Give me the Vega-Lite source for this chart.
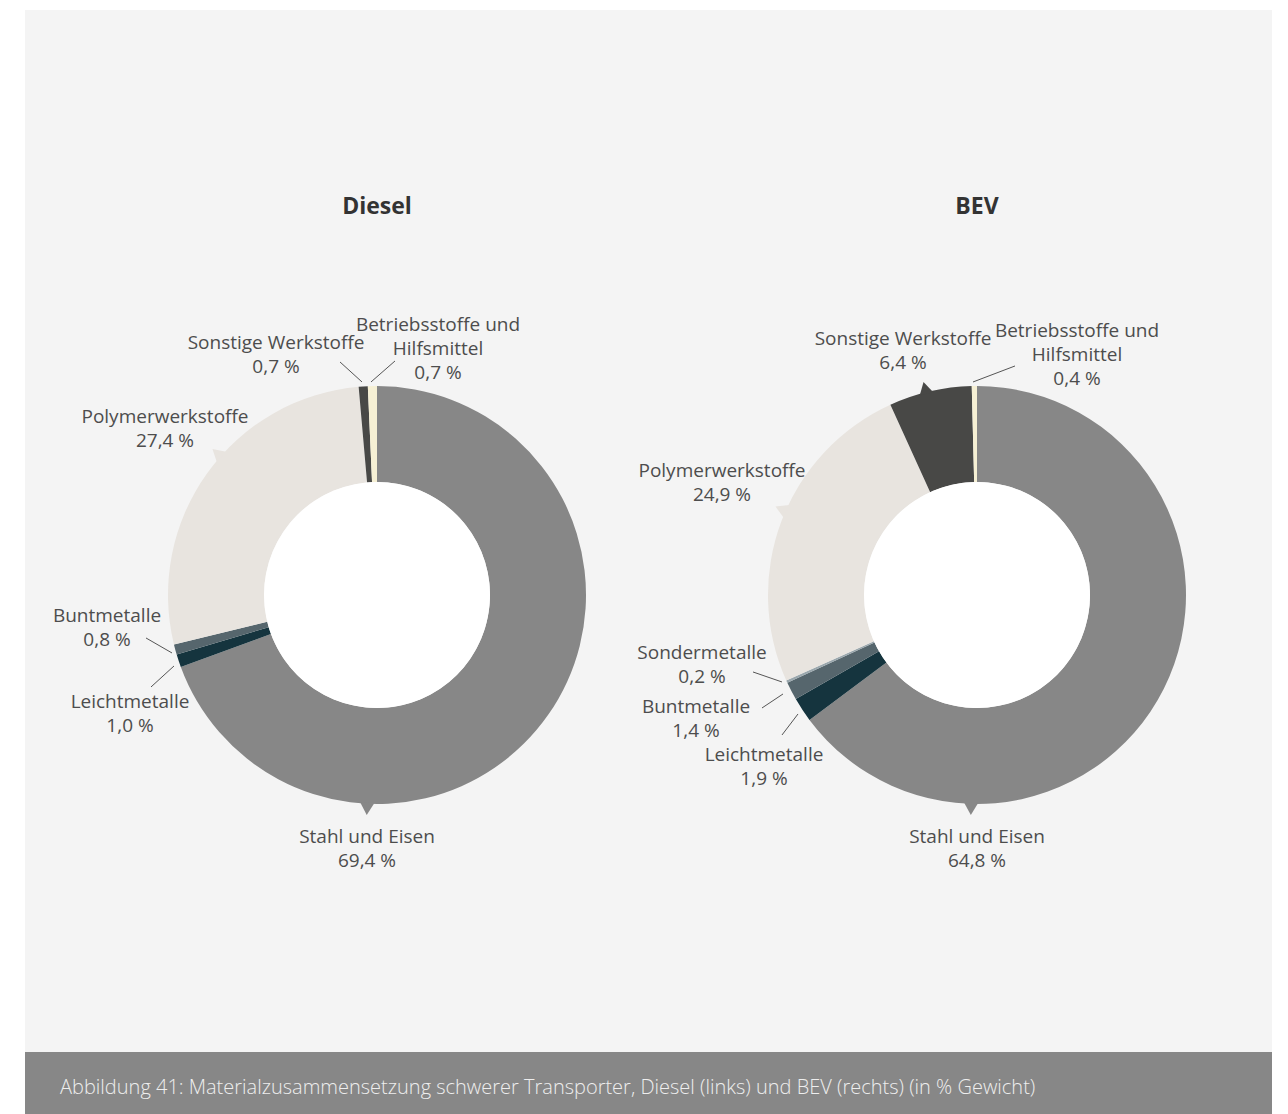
{
  "$schema": "https://vega.github.io/schema/vega-lite/v6.json",
  "background": "white",
  "padding": {"left": 25, "top": 10, "right": 16, "bottom": 0},
  "spacing": 0,
  "config": {
    "view": {"stroke": null},
    "text": {"font": "Open Sans", "fontSize": 19, "lineHeight": 24, "lineBreak": "\n", "color": "#4d4d4d", "baseline": "middle", "align": "center"}
  },
  "datasets": {
    "materials": [
      {"vehicle": "Diesel", "cat": "Stahl und Eisen", "value": 69.4, "order": 1},
      {"vehicle": "Diesel", "cat": "Leichtmetalle", "value": 1.0, "order": 2},
      {"vehicle": "Diesel", "cat": "Buntmetalle", "value": 0.8, "order": 3},
      {"vehicle": "Diesel", "cat": "Polymerwerkstoffe", "value": 27.4, "order": 5},
      {"vehicle": "Diesel", "cat": "Sonstige Werkstoffe", "value": 0.7, "order": 6},
      {"vehicle": "Diesel", "cat": "Betriebsstoffe und Hilfsmittel", "value": 0.7, "order": 7},
      {"vehicle": "BEV", "cat": "Stahl und Eisen", "value": 64.8, "order": 1},
      {"vehicle": "BEV", "cat": "Leichtmetalle", "value": 1.9, "order": 2},
      {"vehicle": "BEV", "cat": "Buntmetalle", "value": 1.4, "order": 3},
      {"vehicle": "BEV", "cat": "Sondermetalle", "value": 0.2, "order": 4},
      {"vehicle": "BEV", "cat": "Polymerwerkstoffe", "value": 24.9, "order": 5},
      {"vehicle": "BEV", "cat": "Sonstige Werkstoffe", "value": 6.4, "order": 6},
      {"vehicle": "BEV", "cat": "Betriebsstoffe und Hilfsmittel", "value": 0.4, "order": 7}
    ]
  },
  "vconcat": [
    {
      "width": 1247,
      "height": 1042,
      "view": {"fill": "#f4f4f4", "stroke": null},
      "data": {"name": "materials"},
      "transform": [
        {"calculate": "replace(datum.cat, ' und Hilfsmittel', ' und\\nHilfsmittel') + '\\n' + replace(format(datum.value, '.1f'), '.', ',') + ' %'", "as": "label"}
      ],
      "encoding": {
        "x": {"field": "vehicle", "type": "nominal", "scale": {"type": "point", "domain": ["Diesel", "BEV"], "range": [352, 952], "padding": 0}, "axis": null},
        "y": {"datum": "center", "type": "nominal", "scale": {"type": "point", "align": 0.5614}, "axis": null}
      },
      "layer": [
        {
          "transform": [{"stack": "value", "groupby": ["vehicle"], "sort": [{"field": "order", "order": "ascending"}], "as": ["start", "end"]}],
          "mark": {"type": "arc", "outerRadius": 209, "innerRadius": 113},
          "encoding": {
            "theta": {"field": "start", "type": "quantitative", "scale": {"domain": [0, 100]}, "stack": null},
            "theta2": {"field": "end"},
            "color": {
              "field": "cat", "type": "nominal", "legend": null,
              "scale": {
                "domain": ["Stahl und Eisen", "Leichtmetalle", "Buntmetalle", "Sondermetalle", "Polymerwerkstoffe", "Sonstige Werkstoffe", "Betriebsstoffe und Hilfsmittel"],
                "range": ["#878787", "#15343e", "#56666d", "#9aa7ad", "#e8e4df", "#484846", "#f6f0d4"]
              }
            }
          }
        },
        {
          "transform": [{"aggregate": [{"op": "count", "as": "n"}], "groupby": ["vehicle"]}],
          "mark": {"type": "arc", "outerRadius": 113, "innerRadius": 0, "color": "#ffffff"},
          "encoding": {}
        },
        {
          "transform": [{"aggregate": [{"op": "count", "as": "n"}], "groupby": ["vehicle"]}],
          "mark": {"type": "text", "dy": -388, "fontSize": 23, "fontWeight": "bold", "color": "#333333"},
          "encoding": {"text": {"field": "vehicle"}}
        },
        {"transform": [{"filter": "datum.vehicle == 'Diesel' && datum.cat == 'Polymerwerkstoffe'"}],
         "mark": {"type": "point", "shape": "triangle-up", "filled": true, "opacity": 1, "size": 196, "angle": 311.7, "xOffset": -160, "yOffset": -142, "strokeWidth": 0},
         "encoding": {"color": {"field": "cat", "type": "nominal", "legend": null}}},
        {"transform": [{"filter": "datum.vehicle == 'Diesel' && datum.cat == 'Stahl und Eisen'"}],
         "mark": {"type": "point", "shape": "triangle-up", "filled": true, "opacity": 1, "size": 196, "angle": 182.6, "xOffset": -10, "yOffset": 214, "strokeWidth": 0},
         "encoding": {"color": {"field": "cat", "type": "nominal", "legend": null}}},
        {"transform": [{"filter": "datum.vehicle == 'BEV' && datum.cat == 'Polymerwerkstoffe'"}],
         "mark": {"type": "point", "shape": "triangle-up", "filled": true, "opacity": 1, "size": 196, "angle": 293.8, "xOffset": -196, "yOffset": -86, "strokeWidth": 0},
         "encoding": {"color": {"field": "cat", "type": "nominal", "legend": null}}},
        {"transform": [{"filter": "datum.vehicle == 'BEV' && datum.cat == 'Stahl und Eisen'"}],
         "mark": {"type": "point", "shape": "triangle-up", "filled": true, "opacity": 1, "size": 196, "angle": 181.6, "xOffset": -6, "yOffset": 214, "strokeWidth": 0},
         "encoding": {"color": {"field": "cat", "type": "nominal", "legend": null}}},
        {"transform": [{"filter": "datum.vehicle == 'BEV' && datum.cat == 'Sonstige Werkstoffe'"}],
         "mark": {"type": "point", "shape": "triangle-up", "filled": true, "opacity": 1, "size": 196, "angle": 345.8, "xOffset": -52, "yOffset": -207, "strokeWidth": 0},
         "encoding": {"color": {"field": "cat", "type": "nominal", "legend": null}}},
        {"transform": [{"filter": "datum.vehicle == 'Diesel' && datum.cat == 'Sonstige Werkstoffe'"}],
         "mark": {"type": "rule", "color": "#555555", "strokeWidth": 1, "xOffset": -37, "yOffset": -233, "x2Offset": -15, "y2Offset": -213},
         "encoding": {"x2": {"field": "vehicle"}, "y2": {"datum": "center"}}},
        {"transform": [{"filter": "datum.vehicle == 'Diesel' && datum.cat == 'Betriebsstoffe und Hilfsmittel'"}],
         "mark": {"type": "rule", "color": "#555555", "strokeWidth": 1, "xOffset": 18, "yOffset": -234, "x2Offset": -6, "y2Offset": -213},
         "encoding": {"x2": {"field": "vehicle"}, "y2": {"datum": "center"}}},
        {"transform": [{"filter": "datum.vehicle == 'Diesel' && datum.cat == 'Buntmetalle'"}],
         "mark": {"type": "rule", "color": "#555555", "strokeWidth": 1, "xOffset": -231, "yOffset": 43, "x2Offset": -205, "y2Offset": 58},
         "encoding": {"x2": {"field": "vehicle"}, "y2": {"datum": "center"}}},
        {"transform": [{"filter": "datum.vehicle == 'Diesel' && datum.cat == 'Leichtmetalle'"}],
         "mark": {"type": "rule", "color": "#555555", "strokeWidth": 1, "xOffset": -226, "yOffset": 92, "x2Offset": -203, "y2Offset": 71},
         "encoding": {"x2": {"field": "vehicle"}, "y2": {"datum": "center"}}},
        {"transform": [{"filter": "datum.vehicle == 'BEV' && datum.cat == 'Betriebsstoffe und Hilfsmittel'"}],
         "mark": {"type": "rule", "color": "#555555", "strokeWidth": 1, "xOffset": 38, "yOffset": -229, "x2Offset": -4, "y2Offset": -213},
         "encoding": {"x2": {"field": "vehicle"}, "y2": {"datum": "center"}}},
        {"transform": [{"filter": "datum.vehicle == 'BEV' && datum.cat == 'Sondermetalle'"}],
         "mark": {"type": "rule", "color": "#555555", "strokeWidth": 1, "xOffset": -224, "yOffset": 77, "x2Offset": -195, "y2Offset": 87},
         "encoding": {"x2": {"field": "vehicle"}, "y2": {"datum": "center"}}},
        {"transform": [{"filter": "datum.vehicle == 'BEV' && datum.cat == 'Buntmetalle'"}],
         "mark": {"type": "rule", "color": "#555555", "strokeWidth": 1, "xOffset": -215, "yOffset": 113, "x2Offset": -194, "y2Offset": 99},
         "encoding": {"x2": {"field": "vehicle"}, "y2": {"datum": "center"}}},
        {"transform": [{"filter": "datum.vehicle == 'BEV' && datum.cat == 'Leichtmetalle'"}],
         "mark": {"type": "rule", "color": "#555555", "strokeWidth": 1, "xOffset": -195, "yOffset": 140, "x2Offset": -179, "y2Offset": 119},
         "encoding": {"x2": {"field": "vehicle"}, "y2": {"datum": "center"}}},
        {"transform": [{"filter": "datum.vehicle == 'Diesel' && datum.cat == 'Sonstige Werkstoffe'"}],
         "mark": {"type": "text", "dx": -101, "dy": -252}, "encoding": {"text": {"field": "label"}}},
        {"transform": [{"filter": "datum.vehicle == 'Diesel' && datum.cat == 'Betriebsstoffe und Hilfsmittel'"}],
         "mark": {"type": "text", "dx": 61, "dy": -270}, "encoding": {"text": {"field": "label"}}},
        {"transform": [{"filter": "datum.vehicle == 'Diesel' && datum.cat == 'Polymerwerkstoffe'"}],
         "mark": {"type": "text", "dx": -212, "dy": -178}, "encoding": {"text": {"field": "label"}}},
        {"transform": [{"filter": "datum.vehicle == 'Diesel' && datum.cat == 'Buntmetalle'"}],
         "mark": {"type": "text", "dx": -270, "dy": 21}, "encoding": {"text": {"field": "label"}}},
        {"transform": [{"filter": "datum.vehicle == 'Diesel' && datum.cat == 'Leichtmetalle'"}],
         "mark": {"type": "text", "dx": -247, "dy": 107}, "encoding": {"text": {"field": "label"}}},
        {"transform": [{"filter": "datum.vehicle == 'Diesel' && datum.cat == 'Stahl und Eisen'"}],
         "mark": {"type": "text", "dx": -10, "dy": 242}, "encoding": {"text": {"field": "label"}}},
        {"transform": [{"filter": "datum.vehicle == 'BEV' && datum.cat == 'Sonstige Werkstoffe'"}],
         "mark": {"type": "text", "dx": -74, "dy": -256}, "encoding": {"text": {"field": "label"}}},
        {"transform": [{"filter": "datum.vehicle == 'BEV' && datum.cat == 'Betriebsstoffe und Hilfsmittel'"}],
         "mark": {"type": "text", "dx": 100, "dy": -264}, "encoding": {"text": {"field": "label"}}},
        {"transform": [{"filter": "datum.vehicle == 'BEV' && datum.cat == 'Polymerwerkstoffe'"}],
         "mark": {"type": "text", "dx": -255, "dy": -124}, "encoding": {"text": {"field": "label"}}},
        {"transform": [{"filter": "datum.vehicle == 'BEV' && datum.cat == 'Sondermetalle'"}],
         "mark": {"type": "text", "dx": -275, "dy": 58}, "encoding": {"text": {"field": "label"}}},
        {"transform": [{"filter": "datum.vehicle == 'BEV' && datum.cat == 'Buntmetalle'"}],
         "mark": {"type": "text", "dx": -281, "dy": 112}, "encoding": {"text": {"field": "label"}}},
        {"transform": [{"filter": "datum.vehicle == 'BEV' && datum.cat == 'Leichtmetalle'"}],
         "mark": {"type": "text", "dx": -213, "dy": 160}, "encoding": {"text": {"field": "label"}}},
        {"transform": [{"filter": "datum.vehicle == 'BEV' && datum.cat == 'Stahl und Eisen'"}],
         "mark": {"type": "text", "dx": 0, "dy": 242}, "encoding": {"text": {"field": "label"}}}
      ]
    },
    {
      "width": 1247,
      "height": 62,
      "view": {"fill": "#878787", "stroke": null},
      "data": {"values": [{"caption": "Abbildung 41: Materialzusammensetzung schwerer Transporter, Diesel (links) und BEV (rechts) (in % Gewicht)"}]},
      "mark": {"type": "text", "align": "left", "baseline": "middle", "font": "Open Sans", "fontWeight": 300, "fontSize": 20, "color": "#eeeeee", "dy": 5},
      "encoding": {"x": {"value": 35}, "text": {"field": "caption"}}
    }
  ]
}
